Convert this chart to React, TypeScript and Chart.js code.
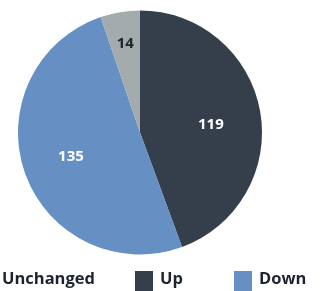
import React, { useEffect, useRef } from "react";
import { Chart, registerables } from "chart.js";
Chart.register(...registerables);

const categories = ["Up", "Down", "Unchanged"];
const values = [119, 135, 14];
const colors = ["#353e4b", "#6690c4", "#a3abad"];
const labelColors = ["#ffffff", "#ffffff", "#1b2430"];
const labelRadiusFactor = [0.585, 0.6, 0.74];
const legendOrder = ["Unchanged", "Up", "Down"];
const legendBoxX = [-23, 135, 234];

const FONT = "'Open Sans', 'Noto Sans', sans-serif";

const sliceLabels = {
  id: "sliceLabels",
  afterDatasetsDraw(chart: any) {
    const ctx = chart.ctx;
    const meta = chart.getDatasetMeta(0);
    ctx.save();
    ctx.font = `bold 15px ${FONT}`;
    ctx.textAlign = "center";
    ctx.textBaseline = "middle";
    meta.data.forEach((arc: any, i: number) => {
      const p = arc.getProps(["x", "y", "startAngle", "endAngle", "outerRadius"], true);
      const mid = (p.startAngle + p.endAngle) / 2 + (i === 0 ? 0.06 : 0);
      const r = p.outerRadius * labelRadiusFactor[i];
      ctx.fillStyle = labelColors[i];
      ctx.fillText(String(values[i]), p.x + Math.cos(mid) * r, p.y + Math.sin(mid) * r);
    });
    ctx.restore();
  },
};

const bottomLegend = {
  id: "bottomLegend",
  afterDraw(chart: any) {
    const ctx = chart.ctx;
    ctx.save();
    ctx.font = `bold 16.5px ${FONT}`;
    ctx.textAlign = "left";
    ctx.textBaseline = "middle";
    legendOrder.forEach((name, k) => {
      const idx = categories.indexOf(name);
      const bx = legendBoxX[k];
      ctx.fillStyle = colors[idx];
      ctx.fillRect(bx, 271, 18, 20);
      ctx.fillStyle = "#1b2430";
      ctx.fillText(name, bx + 25, 279.5);
    });
    ctx.restore();
  },
};

export default function App() {
  const ref = useRef<HTMLCanvasElement | null>(null);
  useEffect(() => {
    if (!ref.current) return;
    const chart = new Chart(ref.current, {
      type: "pie",
      data: {
        labels: categories,
        datasets: [
          {
            data: values,
            backgroundColor: colors,
            borderWidth: 0,
          },
        ],
      },
      options: {
        animation: false,
        responsive: true,
        maintainAspectRatio: false,
        layout: { padding: { left: 18, right: 58, top: 10.5, bottom: 36.5 } },
        plugins: {
          legend: { display: false },
          tooltip: { enabled: false },
        },
      },
      plugins: [sliceLabels, bottomLegend],
    });
    return () => chart.destroy();
  }, []);
  return (
    <div style={{ position: "fixed", left: 0, top: 0, width: 320, height: 291, background: "#fff" }}>
      <canvas ref={ref} />
    </div>
  );
}
